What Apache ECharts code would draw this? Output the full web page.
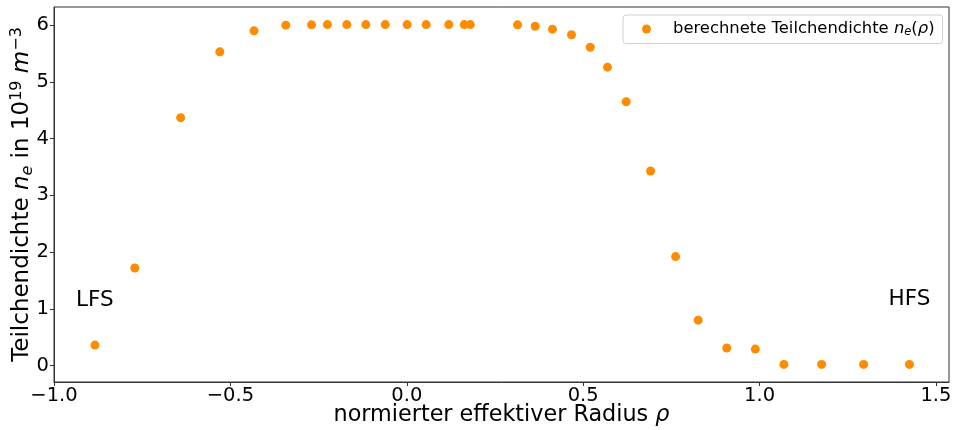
<!DOCTYPE html>
<html>
<head>
<meta charset="utf-8">
<script src="https://cdn.jsdelivr.net/npm/echarts@6/dist/echarts.min.js"></script>
<style>
html,body{margin:0;padding:0;background:#fff;}
#chart{width:953px;height:430px;}
</style>
</head>
<body>
<div id="chart"></div>
<script>
// Data
const rho = [-0.884, -0.771, -0.641, -0.530, -0.433, -0.343, -0.270, -0.225, -0.170, -0.116, -0.061, 0.001, 0.055, 0.119, 0.163, 0.180, 0.314, 0.364, 0.413, 0.467, 0.520, 0.569, 0.622, 0.691, 0.762, 0.826, 0.907, 0.988, 1.069, 1.176, 1.295, 1.425];
const density = [0.36, 1.72, 4.37, 5.53, 5.90, 6.00, 6.005, 6.01, 6.01, 6.01, 6.01, 6.01, 6.01, 6.01, 6.01, 6.01, 6.005, 5.98, 5.93, 5.83, 5.61, 5.26, 4.65, 3.43, 1.92, 0.80, 0.31, 0.29, 0.02, 0.02, 0.02, 0.02];
const xTicks = [-1.0, -0.5, 0.0, 0.5, 1.0, 1.5];
const yTicks = [0, 1, 2, 3, 4, 5, 6];
const annotations = [[-0.884, 1.15, 'LFS'], [1.425, 1.16, 'HFS']];

const FONT = '"DejaVu Sans", sans-serif';
const fmtX = v => (v < 0 ? '\u2212' : '') + Math.abs(v).toFixed(1);

const chart = echarts.init(document.getElementById('chart'), null, {renderer: 'canvas'});
const seriesData = rho.map((r, i) => [r, density[i]]);

chart.setOption({
  animation: false,
  backgroundColor: '#fff',
  textStyle: {fontFamily: FONT},
  grid: {left: 54, right: 4, top: 7, bottom: 48, containLabel: false, outerBoundsMode: 'none', show: true, borderColor: '#333', borderWidth: 1, backgroundColor: 'transparent'},
  legend: {
    data: ['main'],
    left: 623, top: 15,
    padding: [6, 8, 5, 19],
    borderColor: '#d0d0d0', borderWidth: 1, borderRadius: 3,
    backgroundColor: 'rgba(255,255,255,0.8)',
    icon: 'circle', itemWidth: 9, itemHeight: 9,
    formatter: function () {
      return '{a|berechnete Teilchendichte }{i|n}{s|e}{a|(}{i|\u03c1}{a|)}';
    },
    textStyle: {
      padding: [0, 0, 0, 17],
      rich: {
        a: {fontFamily: FONT, fontSize: 16.4, color: '#000', lineHeight: 19},
        i: {fontFamily: FONT, fontSize: 16.4, fontStyle: 'italic', color: '#000', lineHeight: 19},
        s: {fontFamily: FONT, fontSize: 11.5, fontStyle: 'italic', color: '#000', verticalAlign: 'bottom', lineHeight: 12}
      }
    }
  },
  xAxis: {
    type: 'value', min: -1.0, max: 1.537,
    splitLine: {show: false},
    axisLine: {show: true, onZero: false, lineStyle: {color: '#333', width: 1}},
    axisTick: {show: true, length: 4, inside: false, lineStyle: {color: '#333'}, customValues: xTicks},
    axisLabel: {customValues: xTicks, formatter: fmtX, fontSize: 19.5, color: '#000', margin: 4, fontFamily: FONT},
    name: 'normierter effektiver Radius {i|\u03c1}',
    nameLocation: 'middle', nameGap: 22, nameMoveOverlap: false,
    nameTextStyle: {fontSize: 22.3, color: '#000', fontFamily: FONT, rich: {i: {fontSize: 22.3, fontStyle: 'italic', fontFamily: FONT, color: '#000'}}}
  },
  yAxis: {
    type: 'value', min: -0.29, max: 6.32,
    splitLine: {show: false},
    axisLine: {show: true, onZero: false, lineStyle: {color: '#333', width: 1}},
    axisTick: {show: true, length: 4, inside: false, lineStyle: {color: '#333'}, customValues: yTicks},
    axisLabel: {customValues: yTicks, formatter: v => String(v), fontSize: 19.5, color: '#000', margin: 5, fontFamily: FONT},
    name: '{a|Teilchendichte }{i|n}{s|e}{a| in 10}{p|19}{a| }{i|m}{p|\u22123}',
    nameLocation: 'middle', nameGap: 18, nameRotate: 90, nameMoveOverlap: false,
    nameTextStyle: {
      color: '#000', fontFamily: FONT,
      rich: {
        a: {fontSize: 23, fontFamily: FONT, color: '#000', lineHeight: 27},
        i: {fontSize: 23, fontFamily: FONT, fontStyle: 'italic', color: '#000', lineHeight: 27},
        s: {fontSize: 16, fontFamily: FONT, fontStyle: 'italic', color: '#000', verticalAlign: 'bottom', lineHeight: 17},
        p: {fontSize: 16, fontFamily: FONT, color: '#000', verticalAlign: 'top', lineHeight: 17}
      }
    }
  },
  series: [
    {
      name: 'main', type: 'scatter', data: seriesData,
      symbol: 'circle', symbolSize: 9,
      itemStyle: {color: '#ff8c00', opacity: 1},
      z: 3
    },
    {
      name: 'annotations', type: 'scatter',
      data: annotations,
      symbolSize: 0, silent: true,
      itemStyle: {color: '#000', opacity: 1},
      label: {show: true, position: 'inside', formatter: p => p.value[2], fontSize: 21.5, color: '#000', opacity: 1, textBorderWidth: 0, textBorderColor: 'transparent', fontFamily: FONT},
      z: 4
    }
  ]
});
</script>
</body>
</html>
